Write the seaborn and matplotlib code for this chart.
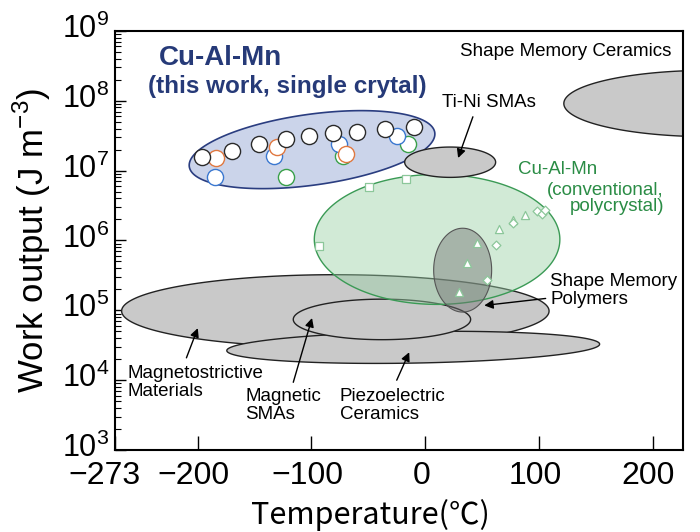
import numpy as np
import pandas as pd
import seaborn as sns
import matplotlib.pyplot as plt
import matplotlib.transforms as mtransforms
from matplotlib.ticker import NullFormatter, FixedLocator

sns.set_style('ticks')
plt.rcParams['font.family'] = ['Liberation Sans', 'DejaVu Sans']
plt.rcParams['mathtext.fontset'] = 'custom'
plt.rcParams['mathtext.rm'] = 'Liberation Sans'
for k in ['text.color', 'axes.labelcolor', 'xtick.color', 'ytick.color', 'axes.edgecolor']:
    plt.rcParams[k] = 'black'

# single crystal points (this work), white circles, edge colour = series
sc_black_T = [-196, -170, -146, -122, -102, -81, -60, -35, -10]
sc_black_W = [1.55e7, 1.9e7, 2.4e7, 2.8e7, 3.1e7, 3.4e7, 3.6e7, 3.9e7, 4.2e7]
sc_orange_T = [-184, -130, -70]
sc_orange_W = [1.5e7, 2.2e7, 1.75e7]
sc_blue_T = [-185, -133, -76, -25]
sc_blue_W = [8.1e6, 1.6e7, 2.4e7, 3.1e7]
sc_green_T = [-122, -72, -15]
sc_green_W = [8.1e6, 1.6e7, 2.4e7]

# conventional polycrystal points
pc_square_T = [-93, -49, -17]
pc_square_W = [8.4e5, 5.9e6, 7.6e6]
pc_tri_T = [30, 37, 46, 65, 77, 88]
pc_tri_W = [1.8e5, 4.8e5, 9.2e5, 1.45e6, 1.97e6, 2.3e6]
pc_dia_T = [54, 62, 77, 98, 103, 105]
pc_dia_W = [2.7e5, 8.5e5, 1.76e6, 2.6e6, 2.37e6, 2.72e6]

# material regions: centre T, centre log10(W), half width (degC), half height (decades), tilt
reg_names = ['ceramics', 'magnetostrictive', 'piezo', 'magnetic_sma',
             'polycrystal', 'smp', 'single_crystal', 'tini']
reg_T = [250, -79, -10.5, -38, 10.5, 33, -99.5, 22]
reg_logW = [7.96, 4.99, 4.47, 4.87, 6.015, 5.575, 7.30, 7.12]
reg_halfT = [128, 188, 164, 78, 108, 25.5, 109, 40]
reg_halfD = [0.475, 0.52, 0.225, 0.29, 0.93, 0.6, 0.507, 0.217]
reg_tilt = [0, 0, 1, 0, 0, 0, 7.9, 0]

x_ticks = [-273, -200, -100, 0, 100, 200]
x_ticklabels = ['\u2212273', '\u2212200', '\u2212100', '0', '100', '200']
y_decades = [3, 4, 5, 6, 7, 8, 9]

PX_T = 1.136   # px per degC
PX_D = 69.8    # px per decade

fig = plt.figure(figsize=(7, 5.32), dpi=100)
ax = fig.add_axes([0.164, 0.154, 0.812, 0.788])
ax.set_yscale('log')
ax.set_xlim(-273, 227)
ax.set_ylim(1e3, 1e9)

def region(i, **kw):
    t = np.linspace(0, 2 * np.pi, 400)
    a = reg_halfT[i] * PX_T
    b = reg_halfD[i] * PX_D
    th = np.deg2rad(reg_tilt[i])
    u = a * np.cos(t) * np.cos(th) - b * np.sin(t) * np.sin(th)
    v = a * np.cos(t) * np.sin(th) + b * np.sin(t) * np.cos(th)
    ax.fill(reg_T[i] + u / PX_T, 10 ** (reg_logW[i] + v / PX_D), **kw)

grey = dict(facecolor='#c9c9c9', edgecolor='#222222', lw=1.0)
region(0, zorder=1, **grey)
region(1, zorder=1, **grey)
region(2, zorder=1.1, **grey)
region(3, zorder=1.2, **grey)
region(4, facecolor=(0.60, 0.82, 0.65, 0.45), edgecolor='#3a9a55', lw=1.0, zorder=1.3)
region(5, facecolor=(0.45, 0.45, 0.45, 0.45), edgecolor='#555555', lw=0.8, zorder=1.4)
region(6, facecolor='#cbd4ea', edgecolor='#2a3d80', lw=1.2, zorder=1.5)
region(7, zorder=1.6, **grey)

# points
for T, W, c in [(sc_green_T, sc_green_W, '#3aa04a'), (sc_blue_T, sc_blue_W, '#3b78d0'),
                (sc_orange_T, sc_orange_W, '#e07840'), (sc_black_T, sc_black_W, '#2a2a2a')]:
    df = pd.DataFrame({'T': T, 'W': W})
    sns.scatterplot(data=df, x='T', y='W', ax=ax, s=135, color='white',
                    edgecolor=c, linewidth=1.0, zorder=3)

pc_edge = '#8cc79a'
for T, W, m, s in [(pc_square_T, pc_square_W, 's', 28), (pc_tri_T, pc_tri_W, '^', 34),
                   (pc_dia_T, pc_dia_W, 'D', 20)]:
    df = pd.DataFrame({'T': T, 'W': W})
    sns.scatterplot(data=df, x='T', y='W', ax=ax, s=s, marker=m, color='white',
                    edgecolor=pc_edge, linewidth=0.9, zorder=3)

# texts
navy = '#263a78'
ax.text(-180, 10 ** 8.61, 'Cu-Al-Mn', color=navy, fontsize=20, fontweight='bold',
        ha='center', va='center')
ax.text(-121, 10 ** 8.2, '(this work, single crytal)', color=navy, fontsize=17.5,
        fontweight='bold', ha='center', va='center')
ax.text(217, 10 ** 8.70, 'Shape Memory Ceramics', fontsize=13.5, ha='right', va='center')
ax.text(56, 10 ** 7.97, 'Ti-Ni SMAs', fontsize=13.5, ha='center', va='center')
green = '#2a8c45'
ax.text(82, 10 ** 7.01, 'Cu-Al-Mn', color=green, fontsize=13.5, ha='left', va='center')
ax.text(210, 10 ** 6.72, '(conventional,', color=green, fontsize=13.5, ha='right', va='center')
ax.text(210, 10 ** 6.48, 'polycrystal)', color=green, fontsize=13.5, ha='right', va='center')
ann = dict(fontsize=13.5, ha='left', va='center', linespacing=1.05)
ax.text(110, 10 ** 5.285, 'Shape Memory\nPolymers', **ann)
ax.text(-262, 10 ** 3.97, 'Magnetostrictive\nMaterials', **ann)
ax.text(-158, 10 ** 3.64, 'Magnetic\nSMAs', **ann)
ax.text(-75, 10 ** 3.64, 'Piezoelectric\nCeramics', **ann)

arrow = dict(arrowstyle='-|>', color='k', lw=1.0, mutation_scale=13, shrinkA=0, shrinkB=0)
for tail, head in [((42, 7.77), (29, 7.18)), ((106, 5.17), (52, 5.07)),
                   ((-210, 4.32), (-200, 4.745)), ((-116, 3.97), (-99.5, 4.89)),
                   ((-25, 4.0), (-14, 4.40))]:
    ax.annotate('', xy=(head[0], 10 ** head[1]), xytext=(tail[0], 10 ** tail[1]),
                arrowprops=arrow, zorder=4)

# axes styling
ax.xaxis.set_major_locator(FixedLocator(x_ticks))
ax.set_xticklabels(x_ticklabels, fontsize=23)
ax.yaxis.set_major_locator(FixedLocator([10.0 ** d for d in y_decades]))
ax.yaxis.set_minor_locator(FixedLocator([k * 10.0 ** d for d in y_decades[:-1] for k in range(2, 10)]))
ax.set_yticklabels(['$10^{%d}$' % d for d in y_decades])
ax.yaxis.set_minor_formatter(NullFormatter())
ax.tick_params(axis='y', which='major', direction='in', length=8, width=1, labelsize=22, pad=4)
ax.tick_params(axis='y', which='minor', direction='in', length=4, width=0.8)
ax.tick_params(axis='x', which='major', direction='in', length=10, width=1, pad=8)
for sp in ax.spines.values():
    sp.set_linewidth(1.5)
    sp.set_visible(True)

ax.set_xlabel('Temperature(\u2103)', family=['Noto Sans CJK JP', 'DejaVu Sans'], fontsize=22)
ax.xaxis.set_label_coords(0.449, -0.155)
ax.xaxis.label.set_va('center')
ax.set_ylabel('Work output (J m$^{-3}$)', fontsize=25, labelpad=6)

fig.canvas.draw()
for lab in ax.get_yticklabels():
    lab.set_transform(lab.get_transform() +
                      mtransforms.ScaledTranslation(0, 0.05, fig.dpi_scale_trans))
for i, lab in enumerate(ax.get_xticklabels()):
    dx = -0.10 if i == 0 else -0.04
    lab.set_transform(lab.get_transform() +
                      mtransforms.ScaledTranslation(dx, 0, fig.dpi_scale_trans))

plt.savefig('out.png', dpi=100)
